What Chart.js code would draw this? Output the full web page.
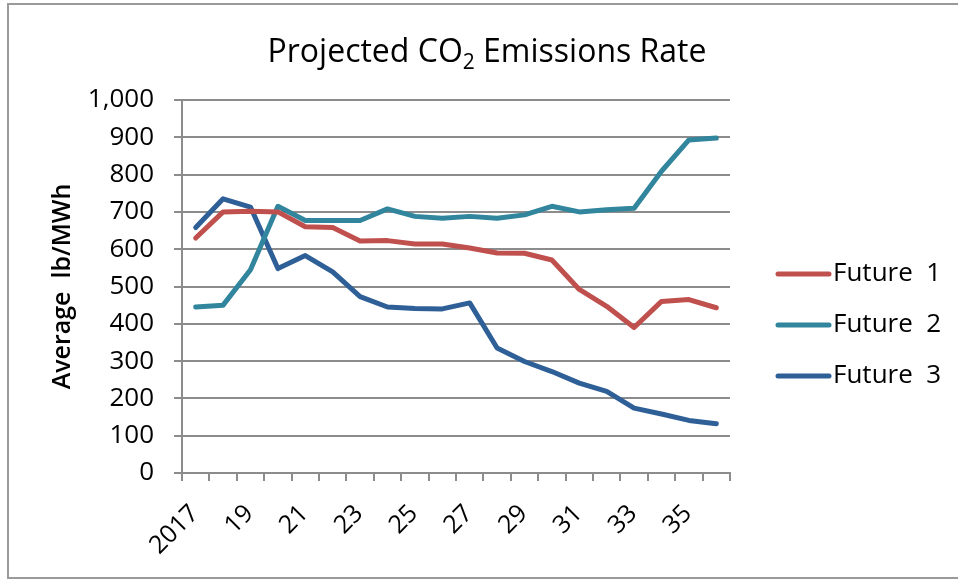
<!DOCTYPE html>
<html>
<head>
<meta charset="utf-8">
<script src="https://cdn.jsdelivr.net/npm/chart.js@4.4.1/dist/chart.umd.min.js"></script>
<style>
  html, body { margin: 0; padding: 0; background: #ffffff; }
  #wrap { position: relative; width: 958px; height: 579px; }
</style>
</head>
<body>
<div id="wrap"><canvas id="chart" width="958" height="579"></canvas></div>
<script>
// Projection years (one point per year)
const years = [2017, 2018, 2019, 2020, 2021, 2022, 2023, 2024, 2025, 2026,
               2027, 2028, 2029, 2030, 2031, 2032, 2033, 2034, 2035, 2036];

// Labels shown under the axis (every other year, short form)
const yearTickLabels = ['2017', '', '19', '', '21', '', '23', '', '25', '',
                        '27', '', '29', '', '31', '', '33', '', '35', ''];

// Average emissions rate, lb/MWh
const future1 = [630, 700, 702, 700, 660, 658, 622, 623, 614, 614,
                 603, 590, 589, 571, 492, 447, 390, 460, 465, 443];
const future2 = [445, 450, 545, 715, 677, 677, 677, 708, 688, 683,
                 688, 683, 692, 715, 700, 706, 710, 809, 893, 898];
const future3 = [658, 735, 713, 548, 583, 539, 473, 445, 441, 440,
                 456, 335, 299, 272, 241, 219, 174, 158, 141, 132];

const seriesNames = ['Future  1', 'Future  2', 'Future  3'];
const seriesColors = ['#C0504D', '#31859C', '#2F5F97'];

const TEXT_FONT = "'Open Sans', 'Noto Sans', sans-serif";

// Frame, title (with subscript) and the legend on the right
const decorations = {
  id: 'decorations',
  beforeDraw(chart) {
    const ctx = chart.ctx;
    ctx.save();
    ctx.fillStyle = '#ffffff';
    ctx.fillRect(0, 0, chart.width, chart.height);
    ctx.strokeStyle = '#9a9a9a';
    ctx.lineWidth = 2;
    ctx.strokeRect(8, 4, chart.width + 10, 574);
    ctx.restore();
  },
  afterDraw(chart) {
    const ctx = chart.ctx;
    ctx.save();
    // Title
    const big = "500 32px " + TEXT_FONT;
    const small = "500 21px " + TEXT_FONT;
    const parts = [['Projected CO', big, 0], ['2', small, 7], [' Emissions Rate', big, 0]];
    let total = 0;
    parts.forEach(p => { ctx.font = p[1]; total += ctx.measureText(p[0]).width; });
    let x = 487 - total / 2;
    const baseY = 62;
    ctx.fillStyle = '#000000';
    ctx.textBaseline = 'alphabetic';
    ctx.textAlign = 'left';
    parts.forEach(p => {
      ctx.font = p[1];
      ctx.fillText(p[0], x, baseY + p[2]);
      x += ctx.measureText(p[0]).width;
    });

    // Legend
    chart.data.datasets.forEach((ds, i) => {
      const y = 274 + i * 51;
      ctx.strokeStyle = ds.borderColor;
      ctx.lineWidth = 5;
      ctx.lineCap = 'round';
      ctx.beginPath();
      ctx.moveTo(778, y);
      ctx.lineTo(829, y);
      ctx.stroke();
      ctx.fillStyle = '#000000';
      ctx.font = "26px " + TEXT_FONT;
      ctx.textBaseline = 'middle';
      ctx.fillText(ds.label, 833, y);
    });
    ctx.restore();
  }
};

new Chart(document.getElementById('chart'), {
  type: 'line',
  data: {
    labels: years,
    datasets: [future1, future2, future3].map((values, i) => ({
      label: seriesNames[i],
      data: values,
      borderColor: seriesColors[i],
      backgroundColor: seriesColors[i],
      borderWidth: 5,
      borderJoinStyle: 'round',
      borderCapStyle: 'round',
      pointRadius: 0,
      tension: 0
    }))
  },
  options: {
    responsive: false,
    animation: false,
    layout: { padding: { top: 100, right: 228, left: 0, bottom: 0 } },
    plugins: {
      legend: { display: false },
      title: { display: false },
      tooltip: { enabled: false }
    },
    scales: {
      x: {
        type: 'category',
        offset: true,
        grid: { display: true, drawOnChartArea: false, drawTicks: true, tickLength: 8, offset: true, color: '#8c8c8c', lineWidth: 2 },
        border: { display: true, color: '#8c8c8c', width: 2 },
        ticks: {
          autoSkip: false,
          maxRotation: 45,
          minRotation: 45,
          padding: 18,
          labelOffset: -1,
          color: '#000000',
          font: { family: TEXT_FONT, size: 25 },
          callback: (value, index) => yearTickLabels[index]
        },
        afterFit: (scale) => { scale.height = 106; }
      },
      y: {
        min: 0,
        max: 1000,
        grid: { color: '#8c8c8c', lineWidth: 2, tickLength: 8 },
        border: { display: true, color: '#8c8c8c', width: 2 },
        ticks: {
          stepSize: 100,
          padding: 20,
          color: '#000000',
          font: { family: TEXT_FONT, size: 26 },
          callback: (v) => v.toLocaleString('en-US')
        },
        title: {
          display: true,
          text: 'Average  lb/MWh',
          color: '#000000',
          font: { family: TEXT_FONT, size: 25, weight: '600' },
          padding: { top: 48, bottom: 0 }
        },
        afterFit: (scale) => { scale.width = 182; }
      }
    }
  },
  plugins: [decorations]
});
</script>
</body>
</html>
